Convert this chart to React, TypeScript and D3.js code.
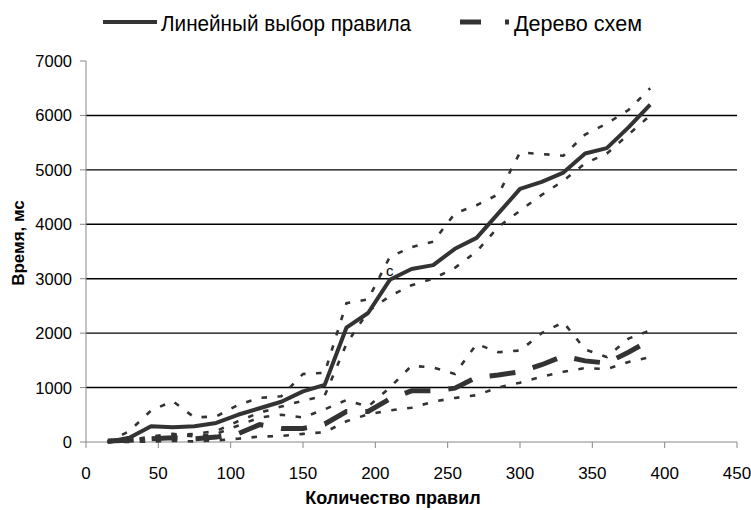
import React from 'react';
import * as d3 from 'd3';

const ruleCounts = [15, 30, 45, 60, 75, 90, 105, 120, 135, 150, 165, 180, 195, 210, 225, 240, 255, 270, 285, 300, 315, 330, 345, 360, 375, 390];
const linearTime = [0, 80, 290, 270, 290, 350, 500, 620, 740, 930, 1050, 2100, 2370, 2980, 3180, 3250, 3550, 3750, 4200, 4650, 4780, 4950, 5300, 5400, 5780, 6200];
const linearUpper = [0, 200, 580, 750, 450, 470, 680, 810, 840, 1250, 1270, 2550, 2620, 3400, 3580, 3680, 4200, 4350, 4550, 5320, 5290, 5260, 5650, 5850, 6100, 6500];
const linearLower = [0, 20, 60, 120, 150, 200, 380, 540, 650, 760, 850, 1800, 2400, 2680, 2880, 3000, 3200, 3500, 3950, 4250, 4540, 4800, 5120, 5300, 5650, 6000];
const treeTime = [20, 30, 60, 80, 60, 90, 150, 320, 250, 250, 330, 560, 560, 790, 940, 940, 990, 1190, 1230, 1290, 1420, 1580, 1490, 1450, 1650, 1870];
const treeUpper = [0, 30, 100, 150, 100, 150, 300, 450, 500, 450, 600, 770, 650, 1000, 1400, 1370, 1250, 1800, 1650, 1680, 2000, 2200, 1700, 1560, 1900, 2050];
const treeLower = [0, 0, 10, 20, 10, 30, 60, 100, 110, 150, 180, 380, 510, 580, 630, 740, 810, 860, 1000, 1090, 1200, 1290, 1360, 1340, 1470, 1560];
const xTicks = [0, 50, 100, 150, 200, 250, 300, 350, 400, 450];
const yTicks = [0, 1000, 2000, 3000, 4000, 5000, 6000, 7000];
const gridValues = [1000, 2000, 3000, 4000, 5000, 6000];
const legendLabels = ['Линейный выбор правила', 'Дерево схем'];
const xTitle = 'Количество правил';
const yTitle = 'Время, мс';
const pointNote = 'c';

export default function App() {
  const x = d3.scaleLinear().domain([0, 450]).range([86, 737]);
  const y = d3.scaleLinear().domain([0, 7000]).range([442, 61]);
  const mk = (vals: number[]) =>
    d3.line<number>().x((_, i) => x(ruleCounts[i])).y((v) => y(v))(vals) || '';
  const ink = '#333333';
  const font = '"Liberation Sans", Arial, sans-serif';
  return (
    <svg width={751} height={510} style={{ position: 'absolute', left: 0, top: 0, background: '#fff' }}>
      <rect x={0} y={0} width={751} height={510} fill="#fff" />
      {gridValues.map((v) => (
        <line key={v} x1={x(0)} x2={x(450)} y1={y(v)} y2={y(v)} stroke="#000" strokeWidth={1.4} />
      ))}
      {/* axes */}
      <line x1={x(0)} x2={x(0)} y1={y(7000)} y2={y(0)} stroke="#888" strokeWidth={1} />
      <line x1={x(0)} x2={x(450)} y1={y(0)} y2={y(0)} stroke="#888" strokeWidth={1} />
      {yTicks.map((v) => (
        <g key={v}>
          <line x1={x(0) - 6} x2={x(0)} y1={y(v)} y2={y(v)} stroke="#888" />
          <text x={72} y={y(v) + 6} textAnchor="end" fontFamily={font} fontSize={16.5} fill="#000">{v}</text>
        </g>
      ))}
      {xTicks.map((v) => (
        <g key={v}>
          <line x1={x(v)} x2={x(v)} y1={y(0)} y2={y(0) + 6} stroke="#888" />
          <text x={x(v)} y={479} textAnchor="middle" fontFamily={font} fontSize={17} fill="#000">{v}</text>
        </g>
      ))}
      <text x={393} y={504} textAnchor="middle" fontFamily={font} fontSize={18} fontWeight="bold" fill="#000">{xTitle}</text>
      <text transform="translate(24,243) rotate(-90)" textAnchor="middle" fontFamily={font} fontSize={17} fontWeight="bold" fill="#000">{yTitle}</text>

      {/* bounds */}
      {[linearUpper, linearLower, treeUpper, treeLower].map((s, i) => (
        <path key={i} d={mk(s)} fill="none" stroke={ink} strokeWidth={2.6} strokeDasharray="5.5,10.5" />
      ))}
      <path d={mk(treeTime)} fill="none" stroke={ink} strokeWidth={5} strokeDasharray="26,18" />
      <path d={mk(linearTime)} fill="none" stroke={ink} strokeWidth={4} strokeLinejoin="round" />
      <text x={386} y={276} fontFamily={font} fontSize={15} fill="#000">{pointNote}</text>

      {/* legend */}
      <line x1={103} x2={157} y1={22} y2={22} stroke={ink} strokeWidth={4} />
      <text x={161} y={31} fontFamily={font} fontSize={22} fill="#000" textLength={250} lengthAdjust="spacingAndGlyphs">{legendLabels[0]}</text>
      <line x1={460} x2={510} y1={22} y2={22} stroke={ink} strokeWidth={5} strokeDasharray="21,24,4,20" />
      <text x={514} y={31} fontFamily={font} fontSize={22} fill="#000" textLength={128} lengthAdjust="spacingAndGlyphs">{legendLabels[1]}</text>
    </svg>
  );
}
